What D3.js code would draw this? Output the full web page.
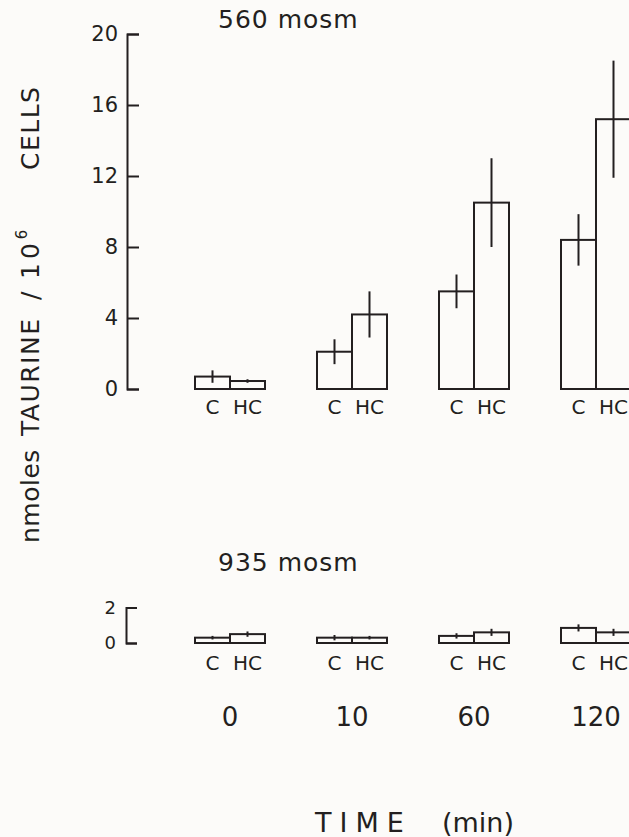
<!DOCTYPE html>
<html>
<head>
<meta charset="utf-8">
<script src="https://cdn.jsdelivr.net/npm/d3@7"></script>
<style>
  body { margin: 0; background: #fcfbf9; }
  svg { display: block; }
  .lbl { font-family: "DejaVu Sans", sans-serif; fill: #231f20; }
</style>
</head>
<body>
<div id="chart"></div>
<script>
// time points (min) and the two columns in each group
const times = ['0', '10', '60', '120'];
const groups = ['C', 'HC'];

// 560 mosm panel, means and error half-widths (nmoles / 10^6 cells)
const c560 = [0.7, 2.1, 5.5, 8.4];
const hc560 = [0.45, 4.2, 10.5, 15.2];
const c560Err = [0.35, 0.7, 0.95, 1.45];
const hc560Err = [0.1, 1.3, 2.5, 3.3];

// 935 mosm panel
const c935 = [0.3, 0.3, 0.4, 0.85];
const hc935 = [0.5, 0.3, 0.6, 0.6];
const c935Err = [0.1, 0.15, 0.15, 0.2];
const hc935Err = [0.15, 0.1, 0.2, 0.2];

const ticks560 = [0, 4, 8, 12, 16, 20];
const ticks935 = [0, 2];

const ink = '#231f20';
const width = 629, height = 837;

const svg = d3.select('#chart').append('svg')
    .attr('width', width)
    .attr('height', height);

// group centres and C / HC columns inside a group
const xTime = d3.scalePoint().domain(times).range([230, 596]);
const xSub = d3.scaleBand().domain(groups).range([-35, 35]);
const colMid = d => xTime(d.time) + xSub(d.group) + xSub.bandwidth() / 2;

function rowsFor(cVals, hcVals, cErr, hcErr) {
    return times.flatMap((t, i) => [
        { time: t, group: 'C', value: cVals[i], err: cErr[i] },
        { time: t, group: 'HC', value: hcVals[i], err: hcErr[i] }
    ]);
}

function drawPanel(cfg) {
    const g = svg.append('g');
    const y = cfg.y;

    // "[" shaped axis with ticks pointing right
    const axis = g.append('g')
        .attr('transform', `translate(${cfg.axisX},0)`)
        .call(d3.axisLeft(y)
            .tickValues(cfg.ticks)
            .tickFormat(d3.format('d'))
            .tickSize(-cfg.tickLen)
            .tickPadding(cfg.tickPad))
        .attr('font-size', cfg.tickFont)
        .attr('font-family', '"DejaVu Sans", sans-serif');
    axis.select('.domain').attr('stroke', ink).attr('stroke-width', 2);
    axis.selectAll('.tick line').attr('stroke', ink).attr('stroke-width', 2);
    axis.selectAll('.tick text')
        .attr('fill', ink)
        .attr('font-size', cfg.tickFont)
        .style('font-size', cfg.tickFont + 'px');

    const rows = rowsFor(cfg.c, cfg.hc, cfg.cErr, cfg.hcErr);

    g.selectAll('.bar')
        .data(rows)
        .join('rect')
            .attr('class', 'bar')
            .attr('x', d => xTime(d.time) + xSub(d.group))
            .attr('width', xSub.bandwidth())
            .attr('y', d => y(d.value))
            .attr('height', d => y(0) - y(d.value))
            .attr('fill', 'none')
            .attr('stroke', ink)
            .attr('stroke-width', 2);

    g.selectAll('.err')
        .data(rows)
        .join('line')
            .attr('class', 'err')
            .attr('x1', colMid)
            .attr('x2', colMid)
            .attr('y1', d => y(d.value + d.err))
            .attr('y2', d => y(d.value - d.err))
            .attr('stroke', ink)
            .attr('stroke-width', 2);

    g.selectAll('.grp')
        .data(rows)
        .join('text')
            .attr('class', 'lbl grp')
            .attr('x', colMid)
            .attr('y', y(0) + cfg.labelGap)
            .attr('text-anchor', 'middle')
            .style('font-size', '20px')
            .text(d => d.group);

    g.append('text')
        .attr('class', 'lbl')
        .attr('x', 218)
        .attr('y', cfg.titleY)
        .style('font-size', '25px')
        .style('letter-spacing', '1px')
        .text(cfg.title);
}

drawPanel({
    title: '560 mosm', titleY: 28,
    y: d3.scaleLinear().domain([0, 20]).range([389, 34]),
    ticks: ticks560, tickLen: 12, tickPad: 9, tickFont: 21,
    axisX: 127, labelGap: 25,
    c: c560, hc: hc560, cErr: c560Err, hcErr: hc560Err
});

drawPanel({
    title: '935 mosm', titleY: 571,
    y: d3.scaleLinear().domain([0, 2]).range([643, 643 - 2 * 17.75]),
    ticks: ticks935, tickLen: 11, tickPad: 10, tickFont: 18,
    axisX: 126, labelGap: 27,
    c: c935, hc: hc935, cErr: c935Err, hcErr: hc935Err
});

// time labels under the groups
svg.selectAll('.time')
    .data(times)
    .join('text')
        .attr('class', 'lbl time')
        .attr('x', d => xTime(d))
        .attr('y', 726)
        .attr('text-anchor', 'middle')
        .style('font-size', '26px')
        .text(d => d);

// axis titles
svg.append('text')
    .attr('class', 'lbl')
    .attr('x', 315)
    .attr('y', 832)
    .style('font-size', '27px')
    .style('letter-spacing', '8px')
    .text('TIME');

svg.append('text')
    .attr('class', 'lbl')
    .attr('x', 442)
    .attr('y', 832)
    .style('font-size', '27px')
    .text('(min)');

const yLabel = svg.append('text')
    .attr('class', 'lbl')
    .attr('transform', 'translate(39,0) rotate(-90)')
    .style('font-size', '25px');
yLabel.append('tspan').attr('x', -543).style('letter-spacing', '0.5px').text('nmoles');
yLabel.append('tspan').attr('x', -436).style('letter-spacing', '1.5px').text('TAURINE');
yLabel.append('tspan').attr('x', -300).text('/');
yLabel.append('tspan').attr('x', -279).style('letter-spacing', '4px').text('10');
yLabel.append('tspan').attr('dy', -12).style('font-size', '15px').text('6');
yLabel.append('tspan').attr('x', -170).attr('dy', 12).style('letter-spacing', '1.5px').text('CELLS');
</script>
</body>
</html>
